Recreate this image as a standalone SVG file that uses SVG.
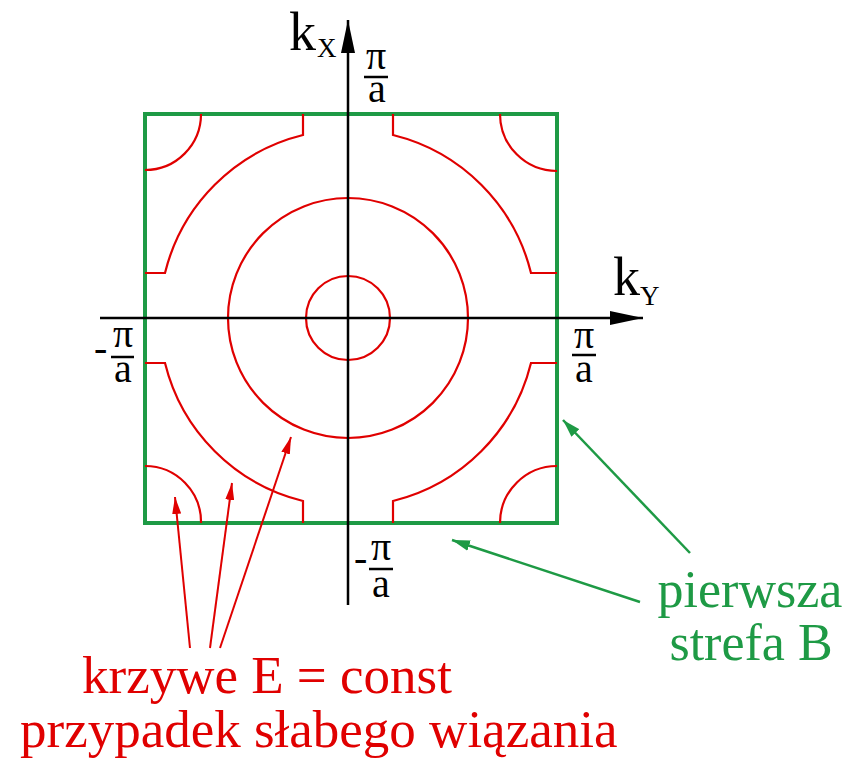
<svg xmlns="http://www.w3.org/2000/svg" width="847" height="758" viewBox="0 0 847 758">
<style>
.ax{stroke:#000;stroke-width:2.5;fill:none}
.zone{stroke:#1e9a45;stroke-width:4;fill:none}
.cur{stroke:#e00000;stroke-width:2.2;fill:none}
.t{font-family:"Liberation Serif","Times New Roman",serif;fill:#000}
.fr{font-size:40px;text-anchor:middle}
.red{fill:#e00000;font-size:53px}
.grn{fill:#1e9a45;font-size:52px;text-anchor:middle}
.ra{stroke:#e00000;stroke-width:2;fill:none}
.ga{stroke:#1e9a45;stroke-width:2.5;fill:none}
</style>
<defs>
<marker id="axh" markerWidth="33" markerHeight="14" refX="33" refY="7" orient="auto" markerUnits="userSpaceOnUse"><path d="M0,0 L33,7 L0,14 z" fill="#000"/></marker>
<marker id="rh" markerWidth="17" markerHeight="9" refX="17" refY="4.5" orient="auto" markerUnits="userSpaceOnUse"><path d="M0,0 L17,4.5 L0,9 z" fill="#e00000"/></marker>
<marker id="gh" markerWidth="18" markerHeight="11" refX="18" refY="5.5" orient="auto" markerUnits="userSpaceOnUse"><path d="M0,0 L18,5.5 L0,11 z" fill="#1e9a45"/></marker>
</defs>

<g id="zone">
<rect class="zone" x="145" y="114" width="412" height="409"/>
</g>

<g id="curves">
<circle class="cur" cx="348" cy="318" r="42"/>
<circle class="cur" cx="348" cy="318" r="120"/>
<path class="cur" d="M303,114 L303,135 A188.5,188.5 0 0 0 165,273 L145,273"/>
<path class="cur" d="M393,114 L393,135 A188.5,188.5 0 0 1 531,273 L557,273"/>
<path class="cur" d="M145,363 L165,363 A188.5,188.5 0 0 0 303,501 L303,523"/>
<path class="cur" d="M393,523 L393,501 A188.5,188.5 0 0 0 531,363 L557,363"/>
<path class="cur" d="M201,114 A56,56 0 0 1 145,170"/>
<path class="cur" d="M500,114 A57,57 0 0 0 557,171"/>
<path class="cur" d="M145,466 A56,56 0 0 1 201,523"/>
<path class="cur" d="M500,523 A57,57 0 0 1 557,466"/>
</g>

<g id="axes">
<line class="ax" x1="348" y1="605" x2="348" y2="20" marker-end="url(#axh)"/>
<line class="ax" x1="100" y1="318" x2="643" y2="318" marker-end="url(#axh)"/>
</g>

<g id="label-kx">
<text class="t" x="289" y="50" font-size="54">k<tspan x="317" y="57" font-size="27">X</tspan></text>
</g>
<g id="label-ky">
<text class="t" x="613" y="295" font-size="54">k<tspan x="640" y="305" font-size="27">Y</tspan></text>
</g>

<g id="frac-top">
<text class="t fr" x="376" y="69">π</text>
<line class="ax" x1="364" y1="77" x2="388" y2="77"/>
<text class="t fr" x="377" y="102">a</text>
</g>
<g id="frac-right">
<text class="t fr" x="584" y="348">π</text>
<line class="ax" x1="572" y1="355" x2="596" y2="355"/>
<text class="t fr" x="584" y="382">a</text>
</g>
<g id="frac-left">
<text class="t" x="94" y="361" font-size="40">-</text>
<text class="t fr" x="123" y="347">π</text>
<line class="ax" x1="111" y1="357" x2="134" y2="357"/>
<text class="t fr" x="123" y="382">a</text>
</g>
<g id="frac-bottom">
<text class="t" x="354" y="571" font-size="40">-</text>
<text class="t fr" x="381" y="560">π</text>
<line class="ax" x1="369" y1="569" x2="393" y2="569"/>
<text class="t fr" x="381" y="597">a</text>
</g>

<g id="label-curves">
<text class="t red" x="82" y="693">krzywe E = const</text>
<text class="t red" x="20" y="747">przypadek słabego wiązania</text>
</g>
<g id="label-zone">
<text class="t grn" x="750" y="607">pierwsza</text>
<text class="t grn" x="751" y="660">strefa B</text>
</g>

<g id="connectors">
<line class="ra" x1="190" y1="648" x2="175" y2="497" marker-end="url(#rh)"/>
<line class="ra" x1="210" y1="648" x2="232" y2="483" marker-end="url(#rh)"/>
<line class="ra" x1="220" y1="648" x2="291" y2="437" marker-end="url(#rh)"/>
<line class="ga" x1="690" y1="553" x2="563" y2="420" marker-end="url(#gh)"/>
<line class="ga" x1="640" y1="602" x2="452" y2="540" marker-end="url(#gh)"/>
</g>
</svg>
